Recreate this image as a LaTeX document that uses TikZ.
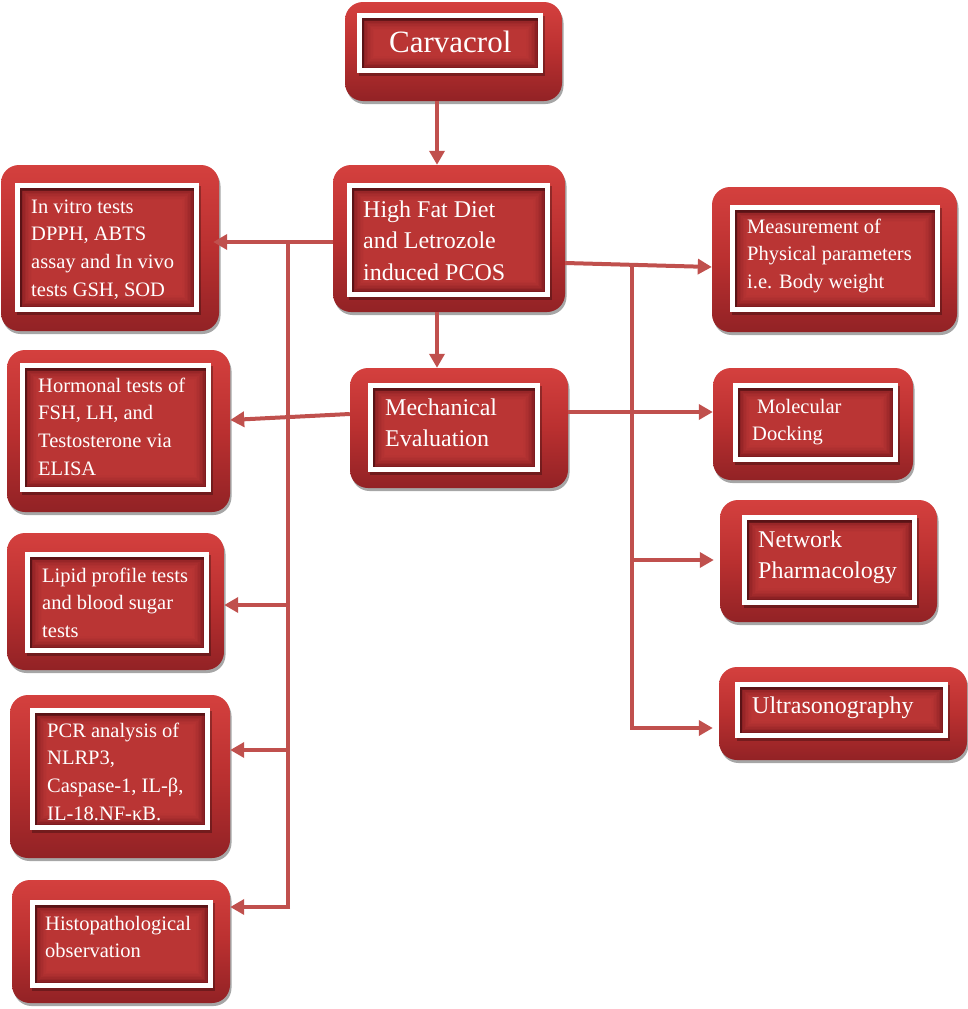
\documentclass[tikz,border=0pt]{standalone}
\usepackage{fontspec}
\setmainfont{Liberation Serif}
\usetikzlibrary{arrows.meta,shadows,fit,calc}
\definecolor{linec}{HTML}{C0504D}
\definecolor{otop}{RGB}{212,64,62}
\definecolor{omid}{RGB}{186,48,48}
\definecolor{obot}{RGB}{146,34,37}
\definecolor{idark}{RGB}{126,27,31}
\definecolor{ilight}{RGB}{200,60,58}
\newcommand{\innerframe}[4]{%
  \fill[idark] (#1,#2) rectangle (#3,#4);
  \foreach \k in {1,...,8}{%
    \pgfmathsetmacro{\innd}{5+\k*1.5}%
    \fill[ilight,opacity=0.2] ({#1+\innd},{#2+\innd}) rectangle ({#3-\innd},{#4-\innd});
  }
  \draw[black,opacity=0.28,line width=5pt] ({#1+4.5},{#2+5}) rectangle ({#3-0.5},{#4});
  \draw[white,line width=5pt] ({#1+2.5},{#2+2.5}) rectangle ({#3-2.5},{#4-2.5});
}
\tikzset{
  obox/.style={rounded corners=18pt, top color=otop, bottom color=obot, middle color=omid,
    draw=none, inner sep=0pt,
    drop shadow={shadow xshift=1.5pt, shadow yshift=-3pt, opacity=0.35, fill=black}},
  txt/.style={text=white, anchor=north west, inner sep=0pt, align=left},
  small/.style={txt, font=\fontsize{20.5}{27.7}\selectfont},
  large/.style={txt, font=\fontsize{24}{31.5}\selectfont},
  huge/.style={txt, font=\fontsize{31}{37}\selectfont},
  conn/.style={draw=linec, line width=4pt},
  arr/.style={conn, -{Triangle[length=14pt,width=15pt]}}
}
\begin{document}
\begin{tikzpicture}[x=1pt,y=-1pt]
\useasboundingbox (0,0) rectangle (968,1009);

% outer boxes
\node[obox, fit={(345,2) (562,101)}] (carv) {};
\node[obox, fit={(333,165) (565,312)}] (hfd) {};
\node[obox, fit={(1,165) (219,331)}] (invitro) {};
\node[obox, fit={(712,187) (957,332)}] (meas) {};
\node[obox, fit={(7,350) (230,512)}] (horm) {};
\node[obox, fit={(350,368) (568,488)}] (mech) {};
\node[obox, fit={(713,368) (913,480)}] (mol) {};
\node[obox, fit={(7,533) (224,670)}] (lipid) {};
\node[obox, fit={(720,500) (937,622)}] (net) {};
\node[obox, fit={(719,667) (967,760)}] (ultra) {};
\node[obox, fit={(10,695) (230,858)}] (pcr) {};
\node[obox, fit={(12,880) (230,1003)}] (histo) {};

% inner frames
\innerframe{357}{13}{543}{73}
\innerframe{347}{183}{550}{297}
\innerframe{15}{183}{199}{312}
\innerframe{730}{205}{940}{312}
\innerframe{20}{363}{211}{492}
\innerframe{368}{383}{540}{472}
\innerframe{733}{383}{898}{462}
\innerframe{25}{552}{209}{653}
\innerframe{742}{515}{917}{605}
\innerframe{735}{682}{948}{738}
\innerframe{30}{708}{210}{830}
\innerframe{30}{900}{213}{988}

% texts
\node[huge] (tcarv) at (389,26.1) {\strut Carvacrol};
\node[large] (thfd) at (363,195) {\strut High Fat Diet\\and Letrozole\\induced PCOS};
\node[large] (tmech) at (385,393) {\strut Mechanical\\Evaluation};
\node[large] (tnet) at (758,525) {\strut Network\\Pharmacology};
\node[large] (tultra) at (752,691) {\strut Ultrasonography};
\node[small] (tinv) at (31,193.6) {\strut In vitro tests\\DPPH, ABTS\\assay and In vivo\\tests GSH, SOD};
\node[small] (tmeas) at (747,213.6) {\strut Measurement of\\Physical parameters\\i.e. Body weight};
\node[small] (thorm) at (38,372.6) {\strut Hormonal tests of\\FSH, LH, and\\Testosterone via\\ELISA};
\node[small] (tlip) at (42,562.6) {\strut Lipid profile tests\\and blood sugar\\tests};
\node[small] (tmol) at (752,393.6) {\strut\hspace*{5pt}Molecular\\Docking};
\node[small] (tpcr) at (47,717.6) {\strut PCR analysis of\\NLRP3,\\Caspase-1, IL-β,\\IL-18.NF-κB.};
\node[small] (thist) at (45,910.6) {\strut Histopathological\\observation};

% connector coordinates
\coordinate (vx) at (437,0);
\coordinate (yl) at (0,242);
\coordinate (tl) at (288,242);
\coordinate (bl) at (288,907);
\coordinate (jl1) at (288,605);
\coordinate (jl2) at (288,750);
\coordinate (tr) at (632,264.5);
\coordinate (br) at (632,728);
\coordinate (jr1) at (632,560);
\coordinate (ym) at (0,412);

% connectors
\draw[arr] (carv.south -| vx) -- (hfd.north -| vx);
\draw[arr] (hfd.south -| vx) -- (mech.north -| vx);
\draw[arr] (hfd.west |- yl) -- ([xshift=-6pt]invitro.east |- yl);
\draw[conn] (tl) -- (bl);
\draw[arr] (jl1) -- (lipid.east |- jl1);
\draw[arr] (jl2) -- (pcr.east |- jl2);
\draw[arr] ([xshift=2pt]bl) -- (histo.east |- bl);
\draw[arr] ($(mech.west)+(0,-14)$) -- ($(horm.east)+(0,-11)$);
\draw[arr] ($(hfd.east)+(0,24.5)$) -- ($(meas.west)+(0,7.5)$);
\draw[conn] (tr) -- (br);
\draw[arr, shorten >=6pt] (jr1) -- (net.west |- jr1);
\draw[arr, shorten >=6pt] ([xshift=-2pt]br) -- (ultra.west |- br);
\draw[arr] (mech.east |- ym) -- (mol.west |- ym);
\end{tikzpicture}
\end{document}
